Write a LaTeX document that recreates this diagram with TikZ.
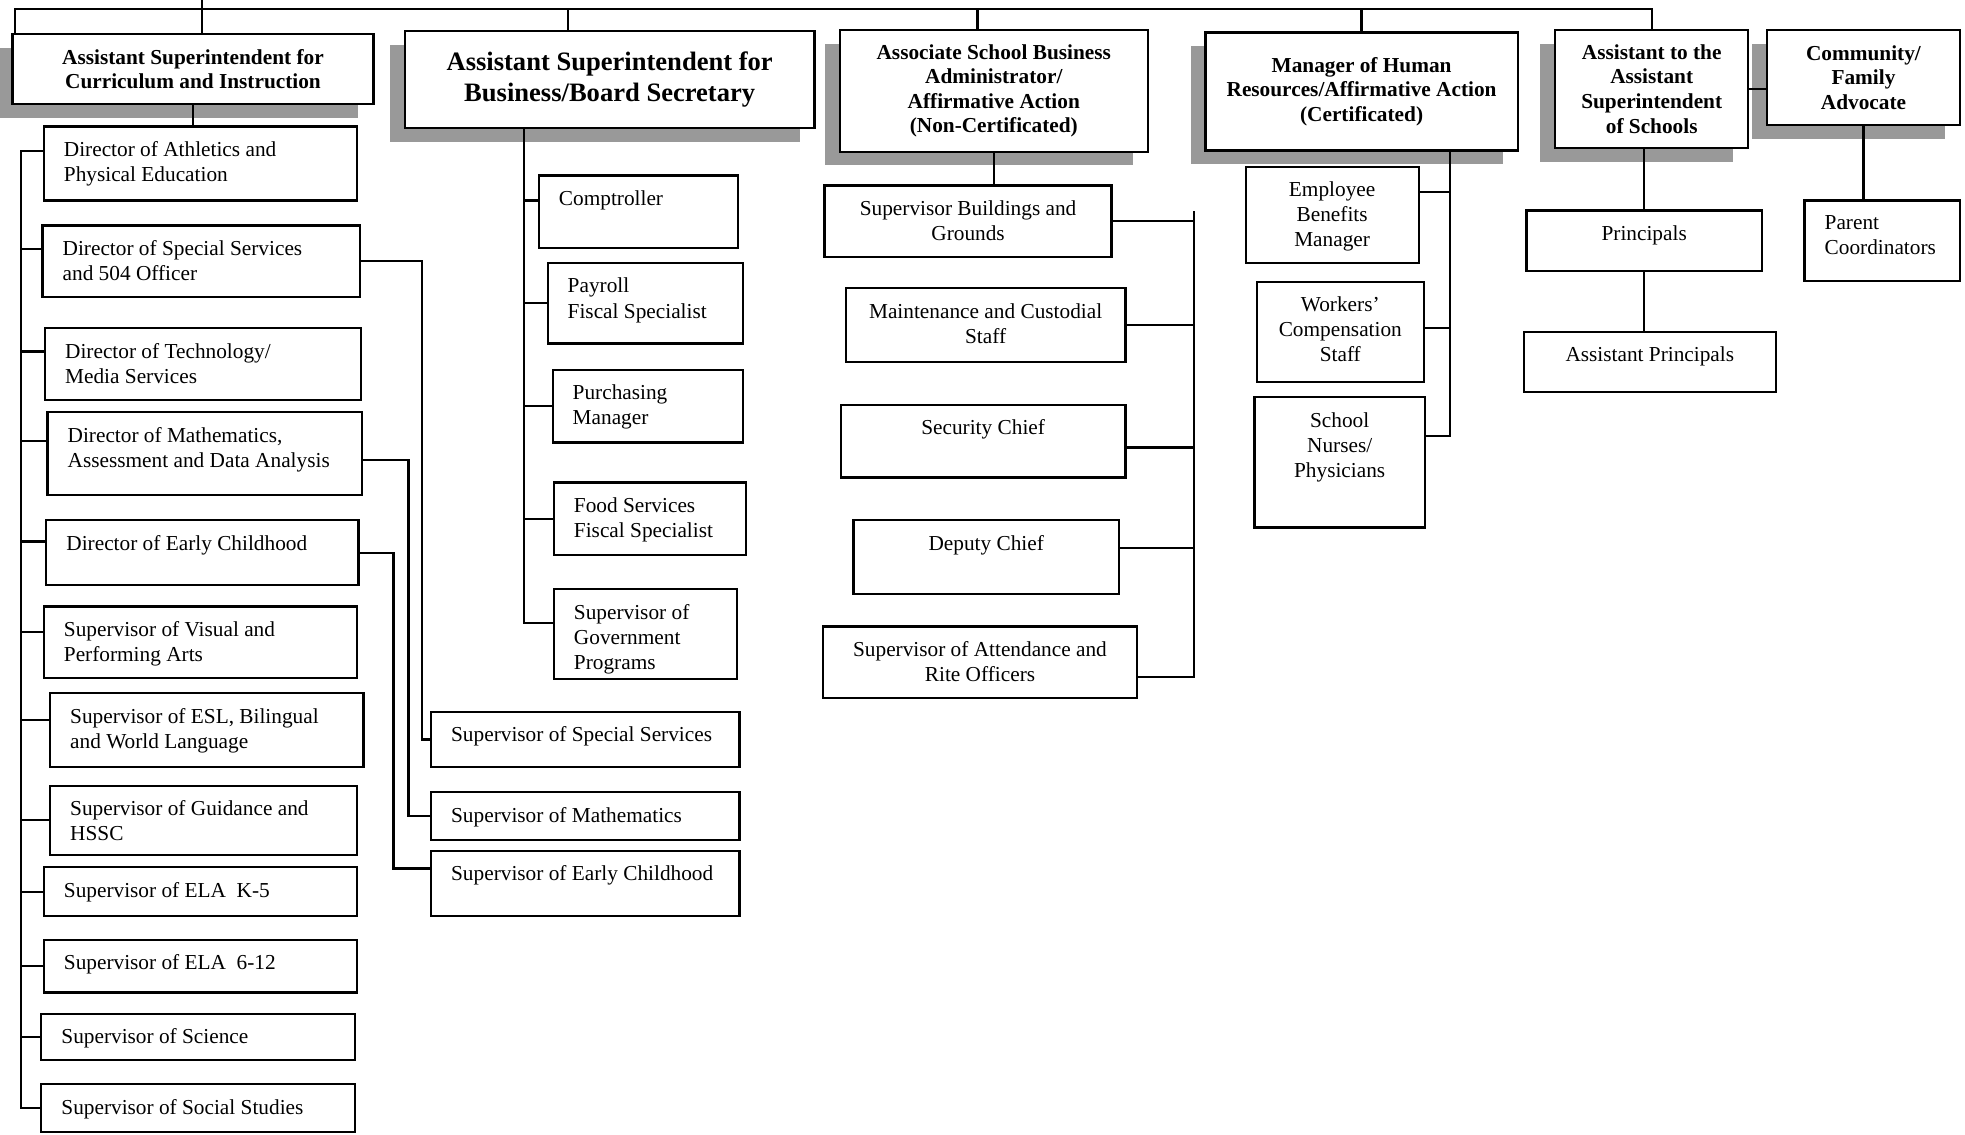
\documentclass[tikz,border=0pt]{standalone}
\usepackage{fontspec}
\setmainfont{Liberation Serif}
\usetikzlibrary{shadows}
\newcommand\unitfont{\fontsize{8.5}{10}\selectfont}
\newcommand\headfont{\fontsize{8.5}{9.8}\selectfont\bfseries}
\newcommand\bigheadfont{\fontsize{10.6}{12.5}\selectfont\bfseries}
\tikzset{
  every node/.style={outer sep=0pt}
}
\tikzset{head/.style 2 args={
    draw, fill=white, anchor=north west,
    minimum width=#1*0.5pt, minimum height=#2*0.5pt,
    inner sep=2pt, align=center, font=\headfont,
    drop shadow={shadow xshift=-6pt,shadow yshift=-5.5pt,fill=black!40,opacity=1}
  }}
\tikzset{unit/.style={
    draw, fill=white, anchor=north west, inner ysep=6pt, font=\unitfont
  }}
\tikzset{lunit/.style 2 args={
    unit, inner xsep=8pt,
    execute at begin node={\begin{minipage}[c][\dimexpr#2pt/2-12pt\relax][t]{\dimexpr#1pt/2-16pt\relax}\raggedright},
    execute at end node={\end{minipage}}
  }}
\tikzset{cunit/.style 2 args={
    unit, inner xsep=4pt,
    execute at begin node={\begin{minipage}[c][\dimexpr#2pt/2-12pt\relax][t]{\dimexpr#1pt/2-8pt\relax}\centering},
    execute at end node={\end{minipage}}
  }}

\begin{document}
\begin{tikzpicture}[x=0.5pt,y=-0.5pt,line width=0.9pt]
  \useasboundingbox (0,0) rectangle (1568,905);

  \node (CurDir)      [head={288}{56}]                     at (10,27)   {Assistant Superintendent for\\Curriculum and Instruction};
  \node (BusBoard)    [head={327}{77},font=\bigheadfont]   at (323,25)  {Assistant Superintendent for\\Business/Board Secretary};
  \node (Assoc)       [head={246}{97}]                     at (670,24)  {Associate School Business\\Administrator/\\Affirmative Action\\(Non-Certificated)};
  \node (HR)          [head={249}{94}]                     at (962,26)  {Manager of Human\\Resources/Affirmative Action\\(Certificated)};
  \node (AsstSchools) [head={154}{94}]                     at (1241,24) {Assistant to the\\Assistant\\Superintendent\\of Schools};
  \node (Community)   [head={154}{76}]                     at (1410,24) {Community/\\Family\\Advocate};

  \node (AthDir)   [lunit={250}{59}] at (35,101) {Director of Athletics and\\Physical Education};
  \node (SpecDir)  [lunit={253}{57}] at (34,180) {Director of Special Services\\and 504 Officer};
  \node (TechDir)  [lunit={252}{57}] at (36,262) {Director of Technology/\\Media Services};
  \node (MathDir)  [lunit={251}{66}] at (38,329) {Director of Mathematics,\\Assessment and Data Analysis};
  \node (EarlyDir) [lunit={249}{52}] at (37,415) {Director of Early Childhood};
  \node (ArtsSup)  [lunit={250}{57}] at (35,484) {Supervisor of Visual and\\Performing Arts};
  \node (EslSup)   [lunit={250}{59}] at (40,553) {Supervisor of ESL, Bilingual\\and World Language};
  \node (GuidSup)  [lunit={245}{55}] at (40,627) {Supervisor of Guidance and\\HSSC};
  \node (ElaKSup)  [lunit={250}{39}] at (35,692) {Supervisor of ELA\enspace K-5};
  \node (ElaHSup)  [lunit={250}{42}] at (35,750) {Supervisor of ELA\enspace 6-12};
  \node (SciSup)   [lunit={250}{37}] at (33,809) {Supervisor of Science};
  \node (SocSup)   [lunit={250}{38}] at (33,865) {Supervisor of Social Studies};

  \node (Comptroller) [lunit={159}{58}] at (430,140) {Comptroller};
  \node (Payroll)     [lunit={156}{64}] at (437,210) {Payroll\\Fiscal Specialist};
  \node (Purchasing)  [lunit={152}{58}] at (441,295) {Purchasing\\Manager};
  \node (FoodSvc)     [lunit={153}{58}] at (442,385) {Food Services\\Fiscal Specialist};
  \node (GovProg)     [lunit={146}{72}] at (442,470) {Supervisor of\\Government\\Programs};

  \node (SpecSup)  [lunit={246}{44}] at (344,568) {Supervisor of Special Services};
  \node (MathSup)  [lunit={246}{38}] at (344,632) {Supervisor of Mathematics};
  \node (EarlySup) [lunit={246}{52}] at (344,679) {Supervisor of Early Childhood};

  \node (Build)    [cunit={229}{57}] at (658,148) {Supervisor Buildings and\\Grounds};
  \node (Maint)    [cunit={223}{59}] at (675,230) {Maintenance and Custodial\\Staff};
  \node (SecChief) [cunit={227}{58}] at (671,323) {Security Chief};
  \node (DepChief) [cunit={212}{59}] at (681,415) {Deputy Chief};
  \node (Attend)   [cunit={250}{57}] at (657,500) {Supervisor of Attendance and\\Rite Officers};

  \node (Benefits) [cunit={138}{77}]  at (994,133)  {Employee\\Benefits\\Manager};
  \node (WorkComp) [cunit={133}{80}]  at (1003,225) {Workers'\\Compensation\\Staff};
  \node (Nurses)   [cunit={136}{104}] at (1001,317) {School\\Nurses/\\Physicians};

  \node (Princ)  [cunit={188}{48}] at (1218,168) {Principals};
  \node (APrinc) [cunit={201}{48}] at (1216,265) {Assistant Principals};
  \node (Parent) [lunit={124}{64}] at (1440,160) {Parent\\Coordinators};

  \coordinate (Top)    at (161,0);
  \coordinate (Rail)   at (AsstSchools.north |- 0,7);
  \coordinate (CurBus) at (17,120);
  \coordinate (BizBus) at ([xshift=47.5pt]BusBoard.south west);
  \coordinate (FacBus) at (953,168);
  \coordinate (HrBus)  at ([xshift=97.5pt]HR.south west);

  \draw ([xshift=1pt]CurDir.north west) |- (Rail) -- (AsstSchools.north);
  \draw (Top) -- (Top |- CurDir.north);
  \draw ([xshift=65pt]BusBoard.north west) |- (Rail);
  \draw ([xshift=-6.5pt]Assoc.north) |- (Rail);
  \draw (HR.north) |- (Rail);

  \draw (CurDir.south) -- (CurDir.south |- AthDir.north);
  \draw ([yshift=5pt]AthDir.west)   -| (CurBus);
  \draw ([yshift=5pt]SpecDir.west)  -| (CurBus);
  \draw ([yshift=5pt]TechDir.west)  -| (CurBus);
  \draw ([yshift=5pt]MathDir.west)  -| (CurBus);
  \draw ([yshift=4.5pt]EarlyDir.west) -| (CurBus);
  \draw ([yshift=4pt]ArtsSup.west)  -| (CurBus);
  \draw ([yshift=4pt]EslSup.west)   -| (CurBus);
  \draw (GuidSup.west) -| (CurBus);
  \draw (ElaKSup.west) -| (CurBus);
  \draw (ElaHSup.west) -| (CurBus);
  \draw (SciSup.west)  -| (CurBus);
  \draw (SocSup.west)  -| (CurBus);

  \draw (SpecDir.east) -- ++(50,0) |- (SpecSup.west);
  \draw ([yshift=-2.5pt]MathDir.east) -- ++(37,0) |- (MathSup.west);
  \draw (EarlyDir.east) -- ++(28,0) |- ([yshift=6pt]EarlySup.west);

  \draw ([yshift=4.5pt]Comptroller.west) -| (BizBus);
  \draw (Payroll.west)    -| (BizBus);
  \draw (Purchasing.west) -| (BizBus);
  \draw (FoodSvc.west)    -| (BizBus);
  \draw ([yshift=4.5pt]GovProg.west) -| (BizBus);

  \draw (Assoc.south) -- (Assoc.south |- Build.north);
  \draw (Build.east) -| (FacBus);
  \draw (Maint.east) -| (FacBus);
  \draw ([yshift=-2.5pt]SecChief.east) -| (FacBus);
  \draw ([yshift=3.5pt]DepChief.east)  -| (FacBus);
  \draw ([yshift=-6pt]Attend.east)     -| (FacBus);

  \draw ([yshift=9pt]Benefits.east)    -| (HrBus);
  \draw ([yshift=1.5pt]WorkComp.east)  -| (HrBus);
  \draw ([yshift=10.5pt]Nurses.east)   -| (HrBus);

  \draw (Princ.north |- AsstSchools.south) -- (Princ.north);
  \draw (Princ.south) -- (Princ.south |- APrinc.north);
  \draw (AsstSchools.east) -- (AsstSchools.east -| Community.west);
  \draw (Community.south) -- (Community.south |- Parent.north);
\end{tikzpicture}
\end{document}
